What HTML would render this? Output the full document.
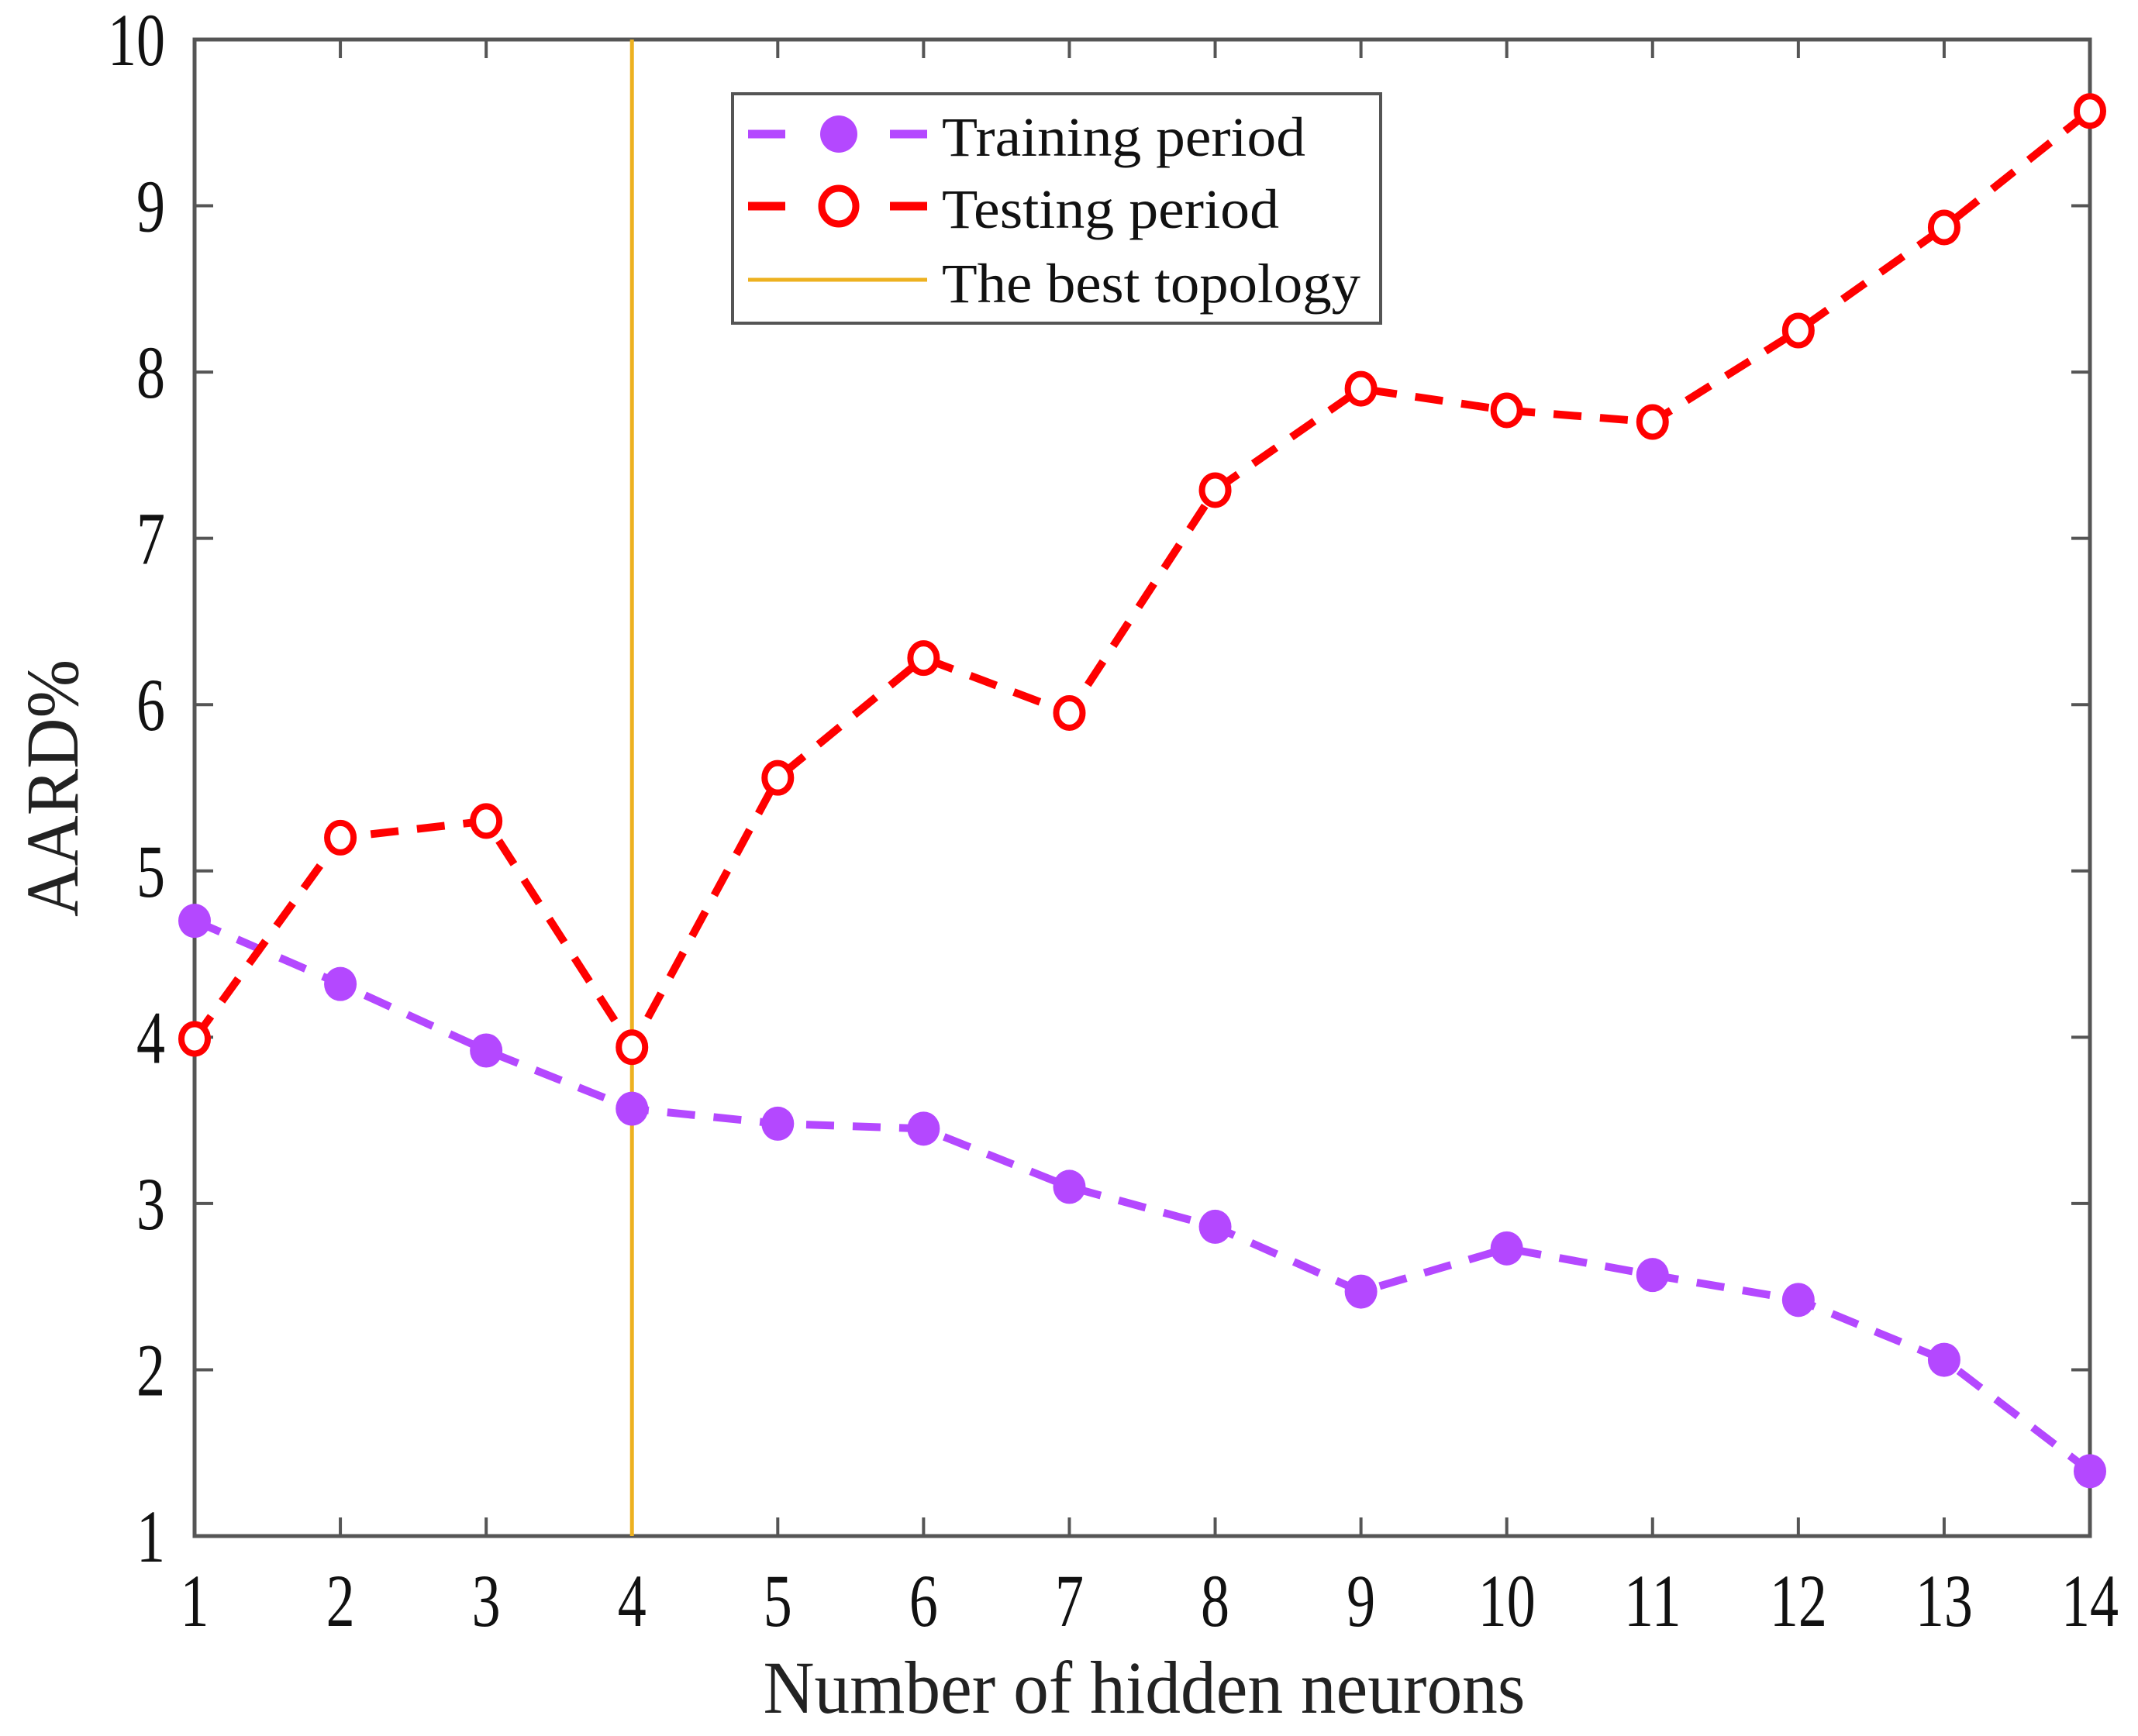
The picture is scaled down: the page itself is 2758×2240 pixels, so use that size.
<!DOCTYPE html>
<html><head><meta charset="utf-8"><style>body{margin:0;background:#fff}svg{display:block}</style></head>
<body>
<svg id="chart" width="2758" height="2240" viewBox="0 0 2758 2240" xmlns="http://www.w3.org/2000/svg" font-family="'Liberation Serif', serif">
<g id="plot"></g>
</svg>
<script>
const categories=[1,2,3,4,5,6,7,8,9,10,11,12,13,14];
const trainingValues=[4.7,4.32,3.92,3.57,3.48,3.45,3.1,2.86,2.47,2.73,2.57,2.42,2.06,1.39];
const testingValues=[3.99,5.2,5.3,3.94,5.56,6.28,5.95,7.29,7.9,7.77,7.7,8.25,8.87,9.57];
const yTicks=[1,2,3,4,5,6,7,8,9,10];
const bestTopology=4;
const NS='http://www.w3.org/2000/svg';
const L=251,R=2696,T=51,B=1982;
function xs(v){return L+(v-1)*(R-L)/13;}
function ys(v){return B-(v-1)*(B-T)/9;}
const g=document.getElementById('plot');
function mk(tag,at,parent){const e=document.createElementNS(NS,tag);for(const k in at)e.setAttribute(k,at[k]);(parent||g).appendChild(e);return e;}
categories.forEach(c=>{
 let t=mk('line',{x1:xs(c),x2:xs(c),y1:B,y2:B-24,stroke:'#555','stroke-width':4});
 
 
 let t2=mk('line',{x1:xs(c),x2:xs(c),y1:T,y2:T+24,stroke:'#555','stroke-width':4});
 
 
 let s=String(c);
 let tx=mk('text',{x:xs(c),y:2098,'font-size':96,'text-anchor':'middle',fill:'#111',textLength:s.length*37,lengthAdjust:'spacingAndGlyphs'});
 tx.textContent=s;
 
 
});
yTicks.forEach(v=>{
 let t=mk('line',{x1:L,x2:L+24,y1:ys(v),y2:ys(v),stroke:'#555','stroke-width':4});
 
 
 let t2=mk('line',{x1:R,x2:R-24,y1:ys(v),y2:ys(v),stroke:'#555','stroke-width':4});
 
 
 let s=String(v);
 let tx=mk('text',{x:213-s.length*37,y:ys(v)+33,'font-size':96,fill:'#111',textLength:s.length*37,lengthAdjust:'spacingAndGlyphs'});
 tx.textContent=s;
 
 
});
let frame=mk('rect',{x:L,y:T,width:R-L,height:B-T,fill:'none',stroke:'#555','stroke-width':5});


let vl=mk('line',{x1:xs(bestTopology),x2:xs(bestTopology),y1:T,y2:B,stroke:'#EDB120','stroke-width':5});


function series(vals,color,name,hollow){
 const pts=vals.map((v,i)=>xs(categories[i])+','+ys(v)).join(' ');
 let pl=mk('polyline',{points:pts,fill:'none',stroke:color,'stroke-width':10,'stroke-dasharray':'36 24'});
 
 
 vals.forEach((v,i)=>{
  let c=mk('ellipse',{cx:xs(categories[i]),cy:ys(v),rx:hollow?17:21,ry:hollow?19:22,fill:hollow?'#fff':color,stroke:hollow?color:'none','stroke-width':8});
  
  
 });
}
series(trainingValues,'#B448FF','training',false);
series(testingValues,'#FF0000','testing',true);
const lg=mk('g',{});


mk('rect',{x:945,y:121,width:836,height:296,fill:'#fff',stroke:'#555','stroke-width':4},lg);
const rows=[['Training period','#B448FF',173,201,469],['Testing period','#FF0000',266,294,435],['The best topology','#EDB120',361,390,540]];
rows.forEach((r,i)=>{
 if(i<2){
  mk('line',{x1:965,x2:1013,y1:r[2],y2:r[2],stroke:r[1],'stroke-width':11},lg);
  mk('line',{x1:1148,x2:1196,y1:r[2],y2:r[2],stroke:r[1],'stroke-width':11},lg);
  mk('ellipse',{cx:1082,cy:r[2],rx:i?22:24,ry:i?23:24,fill:i?'#fff':r[1],stroke:i?r[1]:'none','stroke-width':9},lg);
 } else {
  mk('line',{x1:965,x2:1196,y1:r[2],y2:r[2],stroke:r[1],'stroke-width':5},lg);
 }
 let t=mk('text',{x:1215,y:r[3],'font-size':72,fill:'#111',textLength:r[4],lengthAdjust:'spacingAndGlyphs'},lg);
 t.textContent=r[0];
 
 
});
let xt=mk('text',{x:1476,y:2210,'font-size':96,'text-anchor':'middle',fill:'#222',textLength:983,lengthAdjust:'spacingAndGlyphs'});
xt.textContent='Number of hidden neurons';


let yt=mk('text',{x:0,y:0,'font-size':96,'text-anchor':'middle',fill:'#222',textLength:332,lengthAdjust:'spacingAndGlyphs',transform:'translate(100,1017) rotate(-90)'});
yt.textContent='AARD%';


</script>
</body></html>
